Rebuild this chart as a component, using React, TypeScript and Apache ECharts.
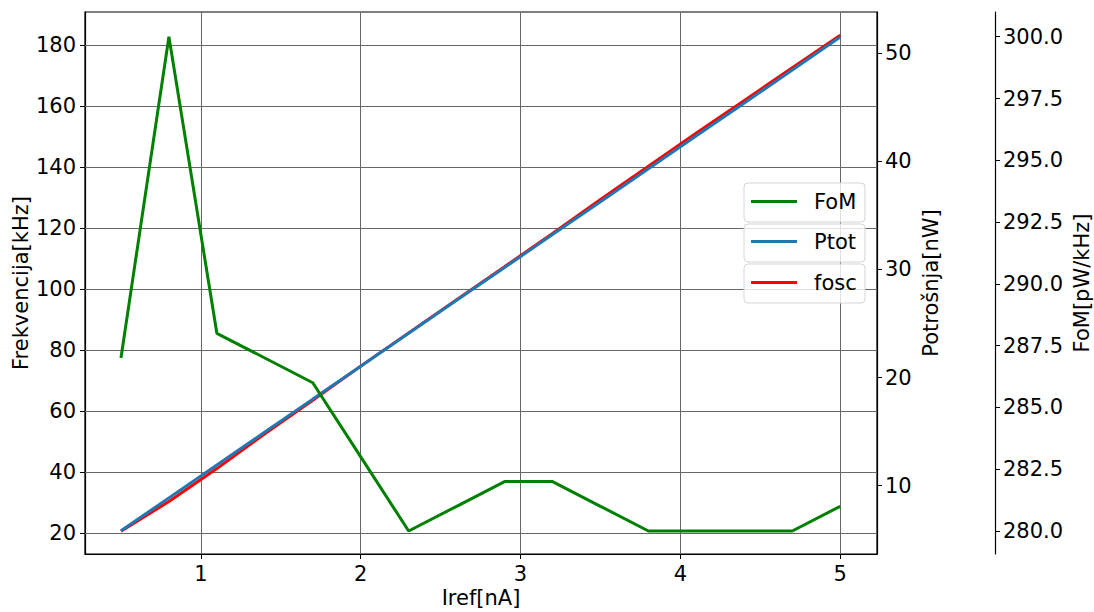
import React, { useEffect, useRef } from "react";
import * as echarts from "echarts";

const xValues = [0.5, 0.8, 1.1, 1.4, 1.7, 2.0, 2.3, 2.6, 2.9, 3.2, 3.5, 3.8, 4.1, 4.4, 4.7, 5.0];
const foscValues = [20.7, 30.4, 41.2, 52.6, 63.6, 74.8, 85.7, 96.6, 107.4, 118.3, 129.4, 140.3, 151.2, 161.9, 172.6, 183.3];
const ptotValues = [5.83, 8.88, 11.92, 14.96, 18.01, 21.05, 24.09, 27.14, 30.18, 33.22, 36.26, 39.31, 42.35, 45.39, 48.44, 51.48];
const fomValues = [287, 300, 288, 287, 286, 283, 280, 281, 282, 282, 281, 280, 280, 280, 280, 281];

const xTicks = [1, 2, 3, 4, 5];
const freqTicks = [20, 40, 60, 80, 100, 120, 140, 160, 180];
const powerTicks = [10, 20, 30, 40, 50];
const fomTicks = [280, 282.5, 285, 287.5, 290, 292.5, 295, 297.5, 300];

const FONT = "DejaVu Sans";
const FS = 21;

export default function App() {
  const ref = useRef<HTMLDivElement>(null);
  useEffect(() => {
    document.body.style.margin = "0";
    const chart = echarts.init(ref.current!, null, { renderer: "svg" });
    const axisCommon = {
      axisLine: { show: true, lineStyle: { color: "#000", width: 1.2 } },
      axisTick: { show: true, inside: false, length: 5, lineStyle: { color: "#000", width: 1 } },
      splitLine: { show: false },
      nameMoveOverlap: false,
      nameTextStyle: { fontFamily: FONT, fontSize: FS, color: "#000" },
    };
    const labelStyle = { fontFamily: FONT, fontSize: FS, color: "#000" };
    const legendCommon = (name: string, top: number) => ({
      data: [{ name, icon: "rect" }],
      left: 751,
      top,
      padding: 0,
      itemWidth: 46,
      itemHeight: 3,
      selectedMode: false,
      z: 110,
      textStyle: { fontFamily: FONT, fontSize: FS, color: "#000", padding: [0, 0, 0, 12] },
    });
    chart.setOption({
      animation: false,
      backgroundColor: "#fff",
      grid: {
        left: 85,
        right: 217,
        top: 12,
        bottom: 58,
        outerBoundsMode: "none",
        containLabel: false,
        show: true,
        borderColor: "#000",
        borderWidth: 1.2,
        backgroundColor: "transparent",
      },
      graphic: [
        { type: "rect", z: 100, shape: { x: 744, y: 183, width: 121, height: 39, r: 4 }, style: { fill: "rgba(255,255,255,0.8)", stroke: "#d5d5d5", lineWidth: 1 } },
        { type: "rect", z: 100, shape: { x: 744, y: 224, width: 121, height: 38, r: 4 }, style: { fill: "rgba(255,255,255,0.8)", stroke: "#d5d5d5", lineWidth: 1 } },
        { type: "rect", z: 100, shape: { x: 744, y: 264, width: 121, height: 39, r: 4 }, style: { fill: "rgba(255,255,255,0.8)", stroke: "#d5d5d5", lineWidth: 1 } },
      ],
      legend: [legendCommon("FoM", 191), legendCommon("Ptot", 231), legendCommon("fosc", 272)],
      xAxis: {
        type: "value",
        min: 0.275,
        max: 5.23,
        name: "Iref[nA]",
        nameLocation: "middle",
        nameGap: 33,
        ...axisCommon,
        axisTick: { ...axisCommon.axisTick, customValues: xTicks },
        axisLabel: { ...labelStyle, margin: 9, customValues: xTicks, formatter: (v: number) => String(v) },
      },
      yAxis: [
        {
          type: "value",
          position: "left",
          min: 13.2,
          max: 190.9,
          name: "Frekvencija[kHz]",
          nameLocation: "middle",
          nameGap: 54,
          nameRotate: 90,
          ...axisCommon,
          axisTick: { ...axisCommon.axisTick, customValues: freqTicks },
          axisLabel: { ...labelStyle, margin: 9, customValues: freqTicks, formatter: (v: number) => String(v) },
        },
        {
          type: "value",
          position: "right",
          min: 3.69,
          max: 53.8,
          name: "Potrošnja[nW]",
          nameLocation: "middle",
          nameGap: 43,
          nameRotate: 90,
          ...axisCommon,
          axisTick: { ...axisCommon.axisTick, customValues: powerTicks },
          axisLabel: { ...labelStyle, margin: 8, customValues: powerTicks, formatter: (v: number) => String(v) },
        },
        {
          type: "value",
          position: "right",
          offset: 118,
          min: 279.07,
          max: 301.0,
          name: "FoM[pW/kHz]",
          nameLocation: "middle",
          nameGap: 76,
          nameRotate: 90,
          ...axisCommon,
          axisTick: { ...axisCommon.axisTick, customValues: fomTicks },
          axisLabel: { ...labelStyle, margin: 8, customValues: fomTicks, formatter: (v: number) => v.toFixed(1) },
        },
      ],
      series: [
        {
          name: "grid",
          type: "line",
          xAxisIndex: 0,
          yAxisIndex: 0,
          data: [],
          silent: true,
          z: 1,
          markLine: {
            silent: true,
            symbol: ["none", "none"],
            label: { show: false },
            lineStyle: { type: "solid", color: "#666", width: 1 },
            emphasis: { disabled: true },
            data: [
              ...xTicks.map((v) => ({ xAxis: v })),
              ...freqTicks.map((v) => ({ yAxis: v })),
            ],
          },
        },
        {
          name: "fosc",
          type: "line",
          yAxisIndex: 0,
          symbol: "none",
          z: 10,
          lineStyle: { color: "#ff0000", width: 3 },
          itemStyle: { color: "#ff0000" },
          data: xValues.map((x, i) => [x, foscValues[i]]),
        },
        {
          name: "Ptot",
          type: "line",
          yAxisIndex: 1,
          symbol: "none",
          z: 11,
          lineStyle: { color: "#1f77b4", width: 3 },
          itemStyle: { color: "#1f77b4" },
          data: xValues.map((x, i) => [x, ptotValues[i]]),
        },
        {
          name: "FoM",
          type: "line",
          yAxisIndex: 2,
          symbol: "none",
          z: 12,
          lineStyle: { color: "#008000", width: 3 },
          itemStyle: { color: "#008000" },
          data: xValues.map((x, i) => [x, fomValues[i]]),
        },
      ],
    });
    return () => chart.dispose();
  }, []);
  return <div ref={ref} style={{ width: 1094, height: 612 }} />;
}
